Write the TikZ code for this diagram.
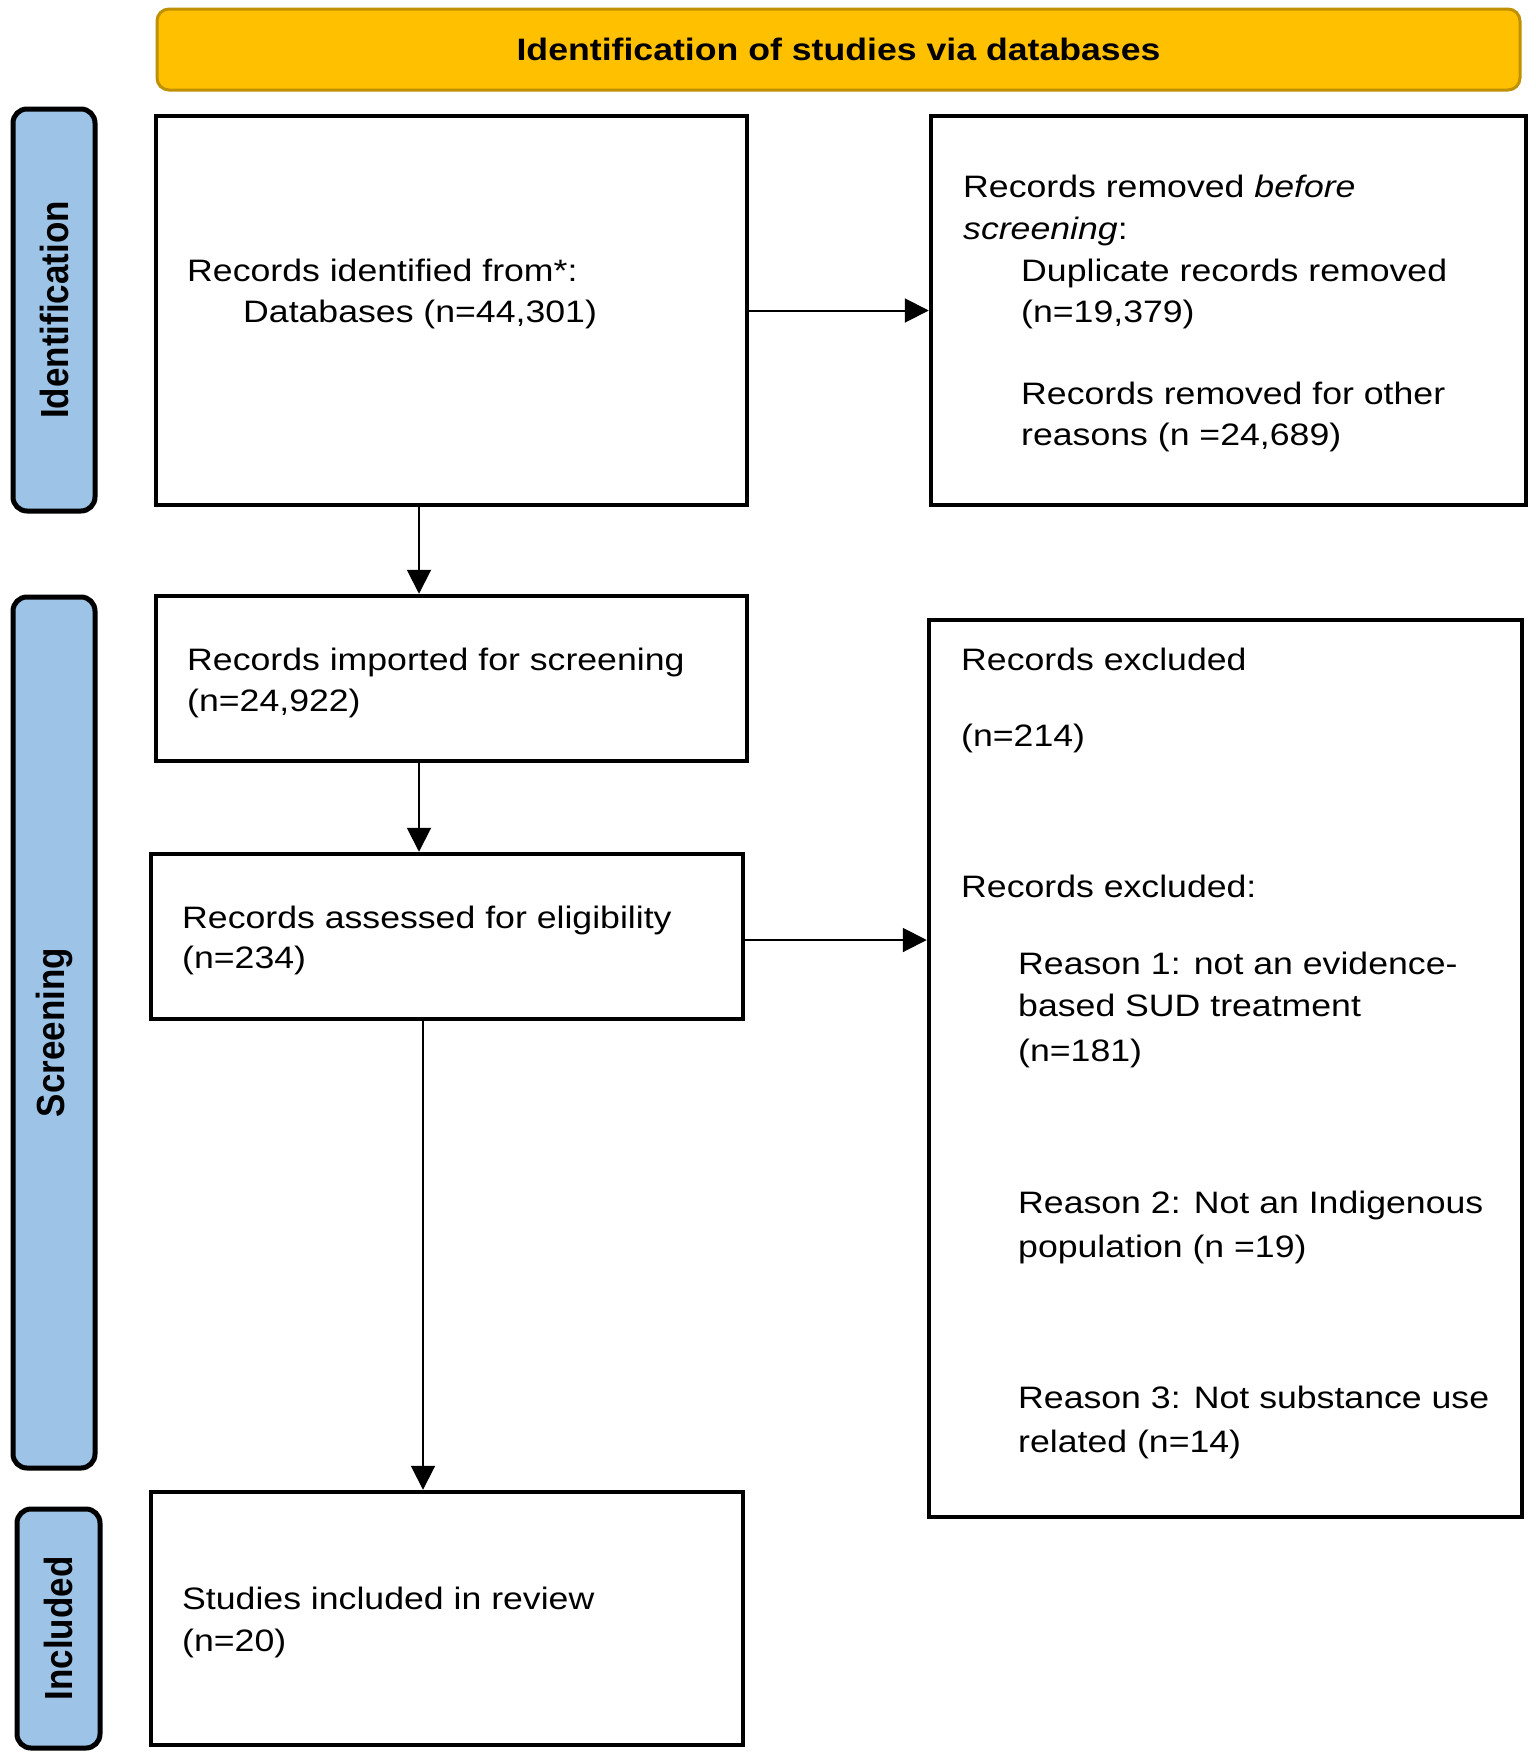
\documentclass[tikz,border=0pt]{standalone}
\usepackage{fontspec}
\usepackage{graphicx}
\setmainfont{Liberation Sans}[FakeStretch=1.15]
\newfontfamily\tabfont{Liberation Sans}
\usetikzlibrary{arrows.meta,calc}
\definecolor{bannerfill}{HTML}{FFC000}
\definecolor{bannerdraw}{HTML}{BF9000}
\definecolor{tabfill}{HTML}{9DC3E6}
\tikzset{
  box/.style={draw=black, line width=4.5pt, fill=white, inner sep=0pt},
  banner/.style={draw=bannerdraw, line width=3pt, fill=bannerfill, rounded corners=12pt, inner sep=0pt},
  tabbox/.style={draw=black, line width=5pt, fill=tabfill, rounded corners=14pt, inner sep=0pt},
  txt/.style={anchor=base west, inner sep=0pt, font=\fontsize{31}{41.5}\selectfont},
  tablabel/.style={inner sep=0pt, rotate=90},
  arr/.style={line width=2pt, -{Triangle[length=24pt,width=24pt]}}
}
\begin{document}
\begin{tikzpicture}[x=1pt,y=-1pt]
\useasboundingbox (0,0) rectangle (1535,1759);
% banner
\node[banner, minimum width=1363pt, minimum height=81pt] (ban) at (838.5,49.5) {};
\node[inner sep=0pt, font=\bfseries\fontsize{31}{36}\selectfont] (bantxt) at (ban.center) {Identification of studies via databases};
% tabs
\node[tabbox, minimum width=82pt, minimum height=402pt] (tab1) at (54,310) {};
\node[tablabel] (tab1t) at (tab1.center) {\scalebox{1}[1.12]{\tabfont\bfseries\fontsize{35}{40}\selectfont Identification}};
\node[tabbox, minimum width=82pt, minimum height=871pt] (tab2) at (54,1032.5) {};
\node[tablabel] (tab2t) at (tab2.center) {\scalebox{1}[1.12]{\tabfont\bfseries\fontsize{35}{40}\selectfont Screening}};
\node[tabbox, minimum width=83pt, minimum height=239pt] (tab3) at (58.5,1628.5) {};
\node[tablabel] (tab3t) at (tab3.center) {\scalebox{1}[1.12]{\tabfont\bfseries\fontsize{35}{40}\selectfont Included}};
% boxes
\node[box, minimum width=591pt, minimum height=389pt] (b1) at (451.5,310.5) {};
\node[box, minimum width=595pt, minimum height=389pt] (b2) at (1228.5,310.5) {};
\node[box, minimum width=591pt, minimum height=165pt] (b3) at (451.5,678.5) {};
\node[box, minimum width=592pt, minimum height=165pt] (b4) at (447,936.5) {};
\node[box, minimum width=593pt, minimum height=897pt] (b5) at (1225.5,1068.5) {};
\node[box, minimum width=592pt, minimum height=253pt] (b6) at (447,1618.5) {};
% texts box 1
\node[txt] (t11) at (187,281.5) {Records identified from*:};
\node[txt] (t12) at (243,322.5) {Databases (n=44,301)};
% box 2
\node[txt] (t21) at (963,197.5) {Records removed \textit{before}};
\node[txt] (t22) at (963,239.5) {\textit{screening}:};
\node[txt] (t23) at (1021,281.5) {Duplicate records removed};
\node[txt] (t24) at (1021,322.5) {(n=19,379)};
\node[txt] (t25) at (1021,404.5) {Records removed for other};
\node[txt] (t26) at (1021,445.5) {reasons (n =24,689)};
% box 3
\node[txt] (t31) at (187,670.5) {Records imported for screening};
\node[txt] (t32) at (187,711.5) {(n=24,922)};
% box 4
\node[txt] (t41) at (182,928.5) {Records assessed for eligibility};
\node[txt] (t42) at (182,968.5) {(n=234)};
% box 5
\node[txt] (t51) at (961,670.5) {Records excluded};
\node[txt] (t52) at (961,746.5) {(n=214)};
\node[txt] (t53) at (961,897.5) {Records excluded:};
\node[txt] (t54) at (1018,974.5) {Reason 1: not an evidence-};
\node[txt] (t55) at (1018,1016.5) {based SUD treatment};
\node[txt] (t56) at (1018,1061.5) {(n=181)};
\node[txt] (t57) at (1018,1213.5) {Reason 2: Not an Indigenous};
\node[txt] (t58) at (1018,1257.5) {population (n =19)};
\node[txt] (t59) at (1018,1408.5) {Reason 3: Not substance use};
\node[txt] (t5a) at (1018,1452.5) {related (n=14)};
% box 6
\node[txt] (t61) at (182,1609.5) {Studies included in review};
\node[txt] (t62) at (182,1651.5) {(n=20)};
% connectors
\coordinate (cx1) at (419,0);
\coordinate (cx2) at (423,0);
\coordinate (cy1) at (0,940);
\draw[arr] (b1.south -| cx1) -- (b3.north -| cx1);
\draw[arr] (b3.south -| cx1) -- (b4.north -| cx1);
\draw[arr] (b4.south -| cx2) -- (b6.north -| cx2);
\draw[arr] (b1.east) -- (b2.west);
\draw[arr] (b4.east |- cy1) -- (b5.west |- cy1);
\end{tikzpicture}
\end{document}
